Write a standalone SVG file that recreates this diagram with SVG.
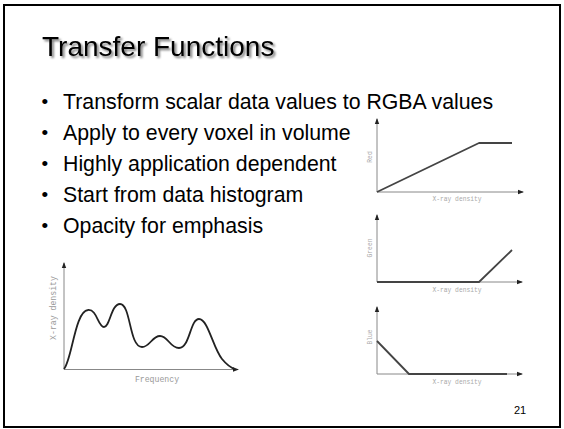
<svg xmlns="http://www.w3.org/2000/svg" width="564" height="429" viewBox="0 0 564 429">
<defs>
<filter id="shadow" x="-10%" y="-30%" width="130%" height="170%">
<feDropShadow dx="2" dy="2" stdDeviation="1.3" flood-color="#000" flood-opacity="0.5"/>
</filter>
<marker id="arr" markerWidth="6" markerHeight="6" refX="5" refY="3" orient="auto" markerUnits="userSpaceOnUse">
<path d="M0,0.8 L6,3 L0,5.2 Z" fill="#222"/>
</marker>
</defs>
<style>
.title{font-family:"Liberation Sans",Arial,sans-serif;font-size:28px;fill:#000}
.bullet{font-family:"Liberation Sans",Arial,sans-serif;font-size:21.3px;fill:#000}
.dot{font-family:"Liberation Sans",Arial,sans-serif;font-size:19px;fill:#000}
.axis{stroke:#888;stroke-width:1;fill:none}
.fn{stroke:#444;stroke-width:1.8;fill:none;stroke-linejoin:round}
.curve{stroke:#222;stroke-width:1.8;fill:none}
.lbl{font-family:"Liberation Mono","Courier New",monospace;font-size:6.3px;fill:#aaa}
.hlbl{font-family:"Liberation Mono","Courier New",monospace;font-size:8.2px;fill:#999}
.pg{font-family:"Liberation Sans",Arial,sans-serif;font-size:11px;fill:#000}
</style>
<rect x="0" y="0" width="564" height="429" fill="#fff"/>
<rect id="frame" x="4" y="5" width="556" height="422" fill="none" stroke="#000" stroke-width="2"/>
<text id="title" class="title" x="42" y="56" filter="url(#shadow)">Transfer Functions</text>
<g id="bullets">
<g class="dot">
<text x="41.5" y="108">•</text>
<text x="41.5" y="139">•</text>
<text x="41.5" y="170">•</text>
<text x="41.5" y="201">•</text>
<text x="41.5" y="232">•</text>
</g>
<g class="bullet">
<text x="63" y="109">Transform scalar data values to RGBA values</text>
<text x="63" y="140">Apply to every voxel in volume</text>
<text x="63" y="171">Highly application dependent</text>
<text x="63" y="202">Start from data histogram</text>
<text x="63" y="233">Opacity for emphasis</text>
</g>
</g>
<g id="chart-red">
<line class="axis" x1="377" y1="192" x2="377" y2="119" marker-end="url(#arr)"/>
<line class="axis" x1="377" y1="192" x2="523" y2="192" marker-end="url(#arr)"/>
<polyline class="fn" points="377,192 479,143 512,143"/>
<text class="lbl" transform="translate(372,157) rotate(-90)" text-anchor="middle">Red</text>
<text class="lbl" x="457" y="201" text-anchor="middle">X-ray density</text>
</g>
<g id="chart-green">
<line class="axis" x1="377" y1="282" x2="377" y2="215" marker-end="url(#arr)"/>
<line class="axis" x1="377" y1="282" x2="522" y2="282" marker-end="url(#arr)"/>
<polyline class="fn" points="377,282 479,282 512,250"/>
<text class="lbl" transform="translate(372,248) rotate(-90)" text-anchor="middle">Green</text>
<text class="lbl" x="457" y="292" text-anchor="middle">X-ray density</text>
</g>
<g id="chart-blue">
<line class="axis" x1="377" y1="374" x2="377" y2="307" marker-end="url(#arr)"/>
<line class="axis" x1="377" y1="374" x2="522" y2="374" marker-end="url(#arr)"/>
<polyline class="fn" points="377,341 409,374 507,374"/>
<text class="lbl" transform="translate(372,337) rotate(-90)" text-anchor="middle">Blue</text>
<text class="lbl" x="457" y="384" text-anchor="middle">X-ray density</text>
</g>
<g id="histogram">
<line class="axis" x1="64" y1="369.5" x2="64" y2="263" marker-end="url(#arr)"/>
<line class="axis" x1="64" y1="369.5" x2="238" y2="369.5" marker-end="url(#arr)"/>
<path class="curve" d="M64,369 C72,360 75,311 88,310 C97,309 98,327 104,327 C110,327 111,304 120,304 C131,304 129,347 142,347 C150,347 152,336 160,336 C168,336 170,348 179,348 C190,348 190,319 199,319 C208,319 213,348 222,359 C227,365 231,368 235,369"/>
<text class="hlbl" transform="translate(56,308) rotate(-90)" text-anchor="middle">X-ray density</text>
<text class="hlbl" x="157" y="382" text-anchor="middle">Frequency</text>
</g>
<text id="page" class="pg" x="514" y="414">21</text>
</svg>
